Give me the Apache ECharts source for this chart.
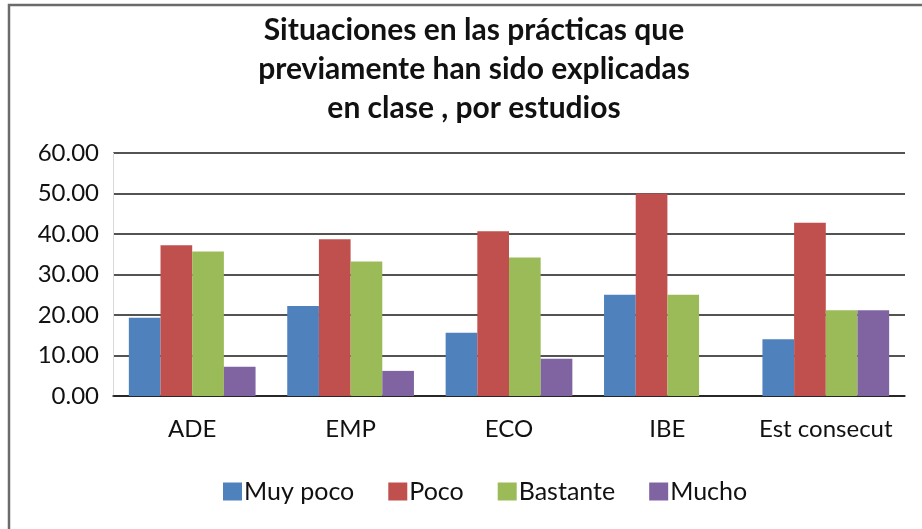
<!DOCTYPE html>
<html>
<head>
<meta charset="utf-8">
<script src="https://cdn.jsdelivr.net/npm/echarts@6/dist/echarts.min.js"></script>
<style>
  html, body { margin: 0; padding: 0; background: #fff; }
  #chart { width: 922px; height: 529px; }
</style>
</head>
<body>
<div id="chart"></div>
<script>
// categorias (estudios)
const estudios = ['ADE', 'EMP', 'ECO', 'IBE', 'Est consecut'];
// porcentajes
const muyPoco  = [19.3, 22.2, 15.6, 25.0, 14.0];
const poco     = [37.2, 38.7, 40.7, 50.0, 42.8];
const bastante = [35.7, 33.2, 34.2, 25.0, 21.2];
const mucho    = [7.2, 6.2, 9.2, 0, 21.2];
const seriesNames = ['Muy poco', 'Poco', 'Bastante', 'Mucho'];
const titleLines = ['Situaciones en las prácticas que', 'previamente han sido explicadas', 'en clase , por estudios'];

const chart = echarts.init(document.getElementById('chart'));
const font = 'Lato, "Open Sans", sans-serif';

const option = {
  animation: false,
  backgroundColor: '#fff',
  color: ['#4f81bd', '#c0504d', '#9bbb59', '#8064a2'],
  textStyle: { fontFamily: font },
  graphic: [{
    // marco del grafico (solo se ven borde superior e izquierdo)
    type: 'rect',
    shape: { x: 9, y: 5, width: 1000, height: 1000 },
    style: { fill: 'none', stroke: '#6b6b6b', lineWidth: 2.5 },
    silent: true
  }],
  title: {
    text: titleLines.join('\n'),
    left: 469,
    textAlign: 'center',
    top: 6,
    textStyle: {
      fontFamily: font,
      fontSize: 30,
      fontWeight: 'bold',
      color: '#111',
      lineHeight: 39
    }
  },
  legend: {
    data: seriesNames,
    top: 474,
    left: 218,
    itemWidth: 19,
    itemHeight: 18,
    itemGap: 34,
    icon: 'rect',
    textStyle: { fontFamily: font, fontSize: 25, color: '#111', padding: [0, 0, 0, -3] }
  },
  grid: {
    left: 113,
    right: 17,
    top: 153,
    bottom: 133,
    containLabel: false
  },
  xAxis: {
    type: 'category',
    data: estudios,
    axisLine: { show: true, lineStyle: { color: '#1a1a1a', width: 1.5 } },
    axisTick: { show: false },
    axisLabel: { fontFamily: font, fontSize: 24, color: '#111', margin: 21, interval: 0 }
  },
  yAxis: {
    type: 'value',
    min: 0,
    max: 60,
    interval: 10,
    axisLine: { show: true, lineStyle: { color: '#d9d9d9', width: 1 } },
    axisTick: { show: false },
    splitLine: { lineStyle: { color: '#1a1a1a', width: 1.5 } },
    axisLabel: {
      fontFamily: font,
      fontSize: 24,
      color: '#111',
      margin: 14,
      formatter: v => v.toFixed(2)
    }
  },
  series: [
    { name: seriesNames[0], type: 'bar', data: muyPoco, barGap: '0%', barCategoryGap: '20%' },
    { name: seriesNames[1], type: 'bar', data: poco, barGap: '0%', barCategoryGap: '20%' },
    { name: seriesNames[2], type: 'bar', data: bastante, barGap: '0%', barCategoryGap: '20%' },
    { name: seriesNames[3], type: 'bar', data: mucho, barGap: '0%', barCategoryGap: '20%' }
  ]
};

chart.setOption(option);
</script>
</body>
</html>
